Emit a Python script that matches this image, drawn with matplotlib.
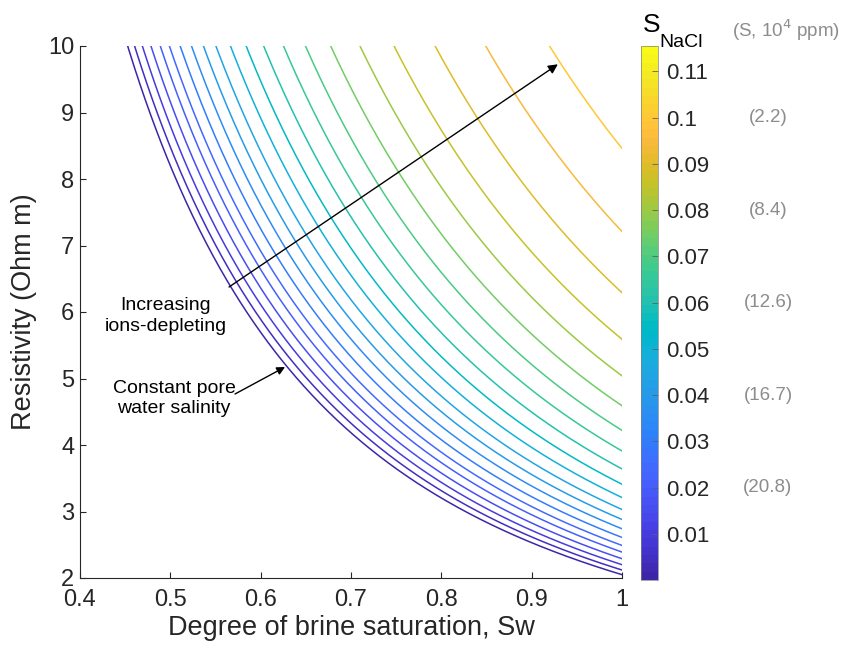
import numpy as np
import matplotlib.pyplot as plt
from matplotlib.colors import ListedColormap, Normalize

plt.rcParams['font.family'] = ['Liberation Sans', 'DejaVu Sans']

# parula colormap (64 entries)
parula_rgb = [
    [0.2422, 0.1504, 0.6603], [0.2504, 0.1650, 0.7076], [0.2578, 0.1818, 0.7511],
    [0.2647, 0.1978, 0.7952], [0.2706, 0.2147, 0.8364], [0.2751, 0.2342, 0.8710],
    [0.2783, 0.2559, 0.8991], [0.2803, 0.2782, 0.9221], [0.2813, 0.3006, 0.9414],
    [0.2810, 0.3228, 0.9579], [0.2795, 0.3447, 0.9717], [0.2760, 0.3667, 0.9829],
    [0.2699, 0.3892, 0.9906], [0.2602, 0.4123, 0.9952], [0.2440, 0.4358, 0.9988],
    [0.2206, 0.4603, 0.9973], [0.1963, 0.4847, 0.9892], [0.1834, 0.5074, 0.9798],
    [0.1786, 0.5289, 0.9682], [0.1764, 0.5499, 0.9520], [0.1687, 0.5703, 0.9359],
    [0.1540, 0.5902, 0.9218], [0.1460, 0.6091, 0.9079], [0.1380, 0.6276, 0.8973],
    [0.1248, 0.6459, 0.8883], [0.1113, 0.6635, 0.8763], [0.0952, 0.6798, 0.8598],
    [0.0689, 0.6948, 0.8394], [0.0297, 0.7082, 0.8163], [0.0036, 0.7203, 0.7917],
    [0.0067, 0.7312, 0.7660], [0.0433, 0.7411, 0.7394], [0.0964, 0.7500, 0.7120],
    [0.1408, 0.7584, 0.6842], [0.1717, 0.7670, 0.6554], [0.1938, 0.7758, 0.6251],
    [0.2161, 0.7843, 0.5923], [0.2470, 0.7918, 0.5567], [0.2906, 0.7973, 0.5188],
    [0.3406, 0.8008, 0.4789], [0.3909, 0.8029, 0.4354], [0.4456, 0.8024, 0.3909],
    [0.5044, 0.7993, 0.3480], [0.5616, 0.7942, 0.3045], [0.6174, 0.7876, 0.2612],
    [0.6720, 0.7793, 0.2227], [0.7242, 0.7698, 0.1910], [0.7738, 0.7598, 0.1646],
    [0.8203, 0.7498, 0.1535], [0.8634, 0.7406, 0.1596], [0.9035, 0.7330, 0.1774],
    [0.9393, 0.7288, 0.2100], [0.9728, 0.7298, 0.2394], [0.9956, 0.7434, 0.2371],
    [0.9970, 0.7659, 0.2199], [0.9952, 0.7893, 0.2028], [0.9892, 0.8136, 0.1885],
    [0.9786, 0.8386, 0.1766], [0.9676, 0.8639, 0.1643], [0.9610, 0.8890, 0.1537],
    [0.9597, 0.9135, 0.1423], [0.9628, 0.9373, 0.1265], [0.9691, 0.9606, 0.1064],
    [0.9769, 0.9839, 0.0805]]
parula = ListedColormap(parula_rgb, name='parula')

# salinity of each curve and its resistivity at full saturation (Sw = 1)
S_nacl = [0.000, 0.005, 0.010, 0.015, 0.020, 0.025, 0.030, 0.035, 0.040, 0.045,
          0.050, 0.055, 0.060, 0.065, 0.070, 0.075, 0.080, 0.085, 0.090, 0.095, 0.100]
R_full = [2.05, 2.12, 2.20, 2.29, 2.39, 2.49, 2.61, 2.74, 2.88, 3.03,
          3.21, 3.41, 3.64, 3.91, 4.22, 4.59, 5.04, 5.59, 6.29, 7.21, 8.46]
n_sat = 2.0  # saturation exponent

# grey labels beside the colorbar: (S, 10^4 ppm)
ppm_pos = [0.10, 0.08, 0.06, 0.04, 0.02]
ppm_txt = ['(2.2)', '(8.4)', '(12.6)', '(16.7)', '(20.8)']

cb_ticks = [0.01, 0.02, 0.03, 0.04, 0.05, 0.06, 0.07, 0.08, 0.09, 0.10, 0.11]
cb_labels = ['0.01', '0.02', '0.03', '0.04', '0.05', '0.06', '0.07', '0.08', '0.09', '0.1', '0.11']

ink = '#262626'
norm = Normalize(vmin=0, vmax=0.1155)

fig = plt.figure(figsize=(8.43, 6.52), dpi=100)
ax = fig.add_axes([80/843, 1-578/652, 542/843, 532/652])

sw = np.linspace(0.4, 1.0, 400)
for s, r1 in zip(S_nacl, R_full):
    ax.plot(sw, r1 * sw**(-n_sat), color=parula(norm(s)), lw=1.1)

ax.set_xlim(0.4, 1.0)
ax.set_ylim(2, 10)
ax.set_xticks([0.4, 0.5, 0.6, 0.7, 0.8, 0.9, 1.0])
ax.set_xticklabels(['0.4', '0.5', '0.6', '0.7', '0.8', '0.9', '1'])
ax.set_yticks(range(2, 11))
for side in ['top', 'right']:
    ax.spines[side].set_visible(False)
for side in ['left', 'bottom']:
    ax.spines[side].set_color(ink)
    ax.spines[side].set_linewidth(0.8)
ax.tick_params(direction='in', length=4.2, width=0.8, color=ink,
               labelcolor=ink, labelsize=17)
ax.tick_params(axis='x', pad=8)
ax.tick_params(axis='y', pad=4)
ax.set_xlabel('Degree of brine saturation, Sw', fontsize=19.5, color=ink, labelpad=3)
ax.set_ylabel('Resistivity (Ohm m)', fontsize=19.5, color=ink, labelpad=8)

# annotations
ax.annotate('', xy=(0.929, 9.725), xytext=(0.565, 6.376),
            arrowprops=dict(arrowstyle='-|>', color='black', lw=1.0,
                            mutation_scale=14, shrinkA=0, shrinkB=0))
ax.text(0.495, 5.94, 'Increasing\nions-depleting', ha='center', va='center',
        fontsize=14, linespacing=1.25)
ax.annotate('', xy=(0.627, 5.173), xytext=(0.5716, 4.767),
            arrowprops=dict(arrowstyle='-|>', color='black', lw=1.0,
                            mutation_scale=12, shrinkA=0, shrinkB=0))
ax.text(0.504, 4.70, 'Constant pore\nwater salinity', ha='center', va='center',
        fontsize=14, linespacing=1.25)

# colorbar
cax = fig.add_axes([641/843, 1-580/652, 17/843, 534/652])
sm = plt.cm.ScalarMappable(norm=norm, cmap=parula)
cb = fig.colorbar(sm, cax=cax)
cb.set_ticks(cb_ticks)
cb.set_ticklabels(cb_labels)
cb.outline.set_linewidth(0.5)
cb.outline.set_edgecolor('#808080')
cax.tick_params(direction='in', length=4, width=0.6, color='#606060',
                labelcolor=ink, labelsize=16, pad=6)

fig.text(643/843, 1-32/652, 'S', fontsize=19, ha='left', va='baseline')
fig.text(659/843, 1-47/652, 'NaCl', fontsize=14, ha='left', va='baseline')
fig.text(732/843, 1-37/652, r'(S, 10$^4$ ppm)', fontsize=13.5, color='#8c8c8c',
         ha='left', va='baseline')
for v, t in zip(ppm_pos, ppm_txt):
    yfig = cax.transAxes.transform((0, norm(v)))[1] / fig.bbox.height
    fig.text(768/843, yfig, t, fontsize=13.5, color='#8c8c8c', ha='center', va='center')

plt.savefig('out.png', dpi=100)
